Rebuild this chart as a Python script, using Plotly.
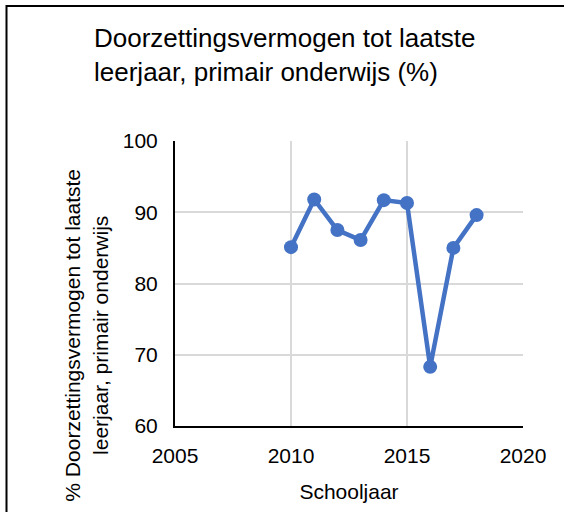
import plotly.graph_objects as go

years = [2010, 2011, 2012, 2013, 2014, 2015, 2016, 2017, 2018]
values = [85.1, 91.8, 87.5, 86.1, 91.7, 91.3, 68.3, 85.0, 89.6]

x_ticks = [2005, 2010, 2015, 2020]
y_ticks = [60, 70, 80, 90, 100]

title_text = 'Doorzettingsvermogen tot laatste<br>leerjaar, primair onderwijs (%)'
x_title = 'Schooljaar'
y_title = '% Doorzettingsvermogen tot laatste<br>leerjaar, primair onderwijs'

font_family = 'Liberation Sans, Arial, sans-serif'
grid_color = '#D9D9D9'

fig = go.Figure()

# empty trace so the overlay axes (used only for the inner gridlines) get drawn
fig.add_trace(go.Scatter(x=[], y=[], xaxis='x2', yaxis='y2',
                         showlegend=False, hoverinfo='skip'))

fig.add_trace(go.Scatter(
    x=years, y=values,
    mode='lines+markers',
    line=dict(color='#4472C4', width=4.5),
    marker=dict(color='#4472C4', size=14),
    showlegend=False
))

fig.update_layout(
    xaxis=dict(
        range=[2005, 2020], tickvals=x_ticks,
        showgrid=False, zeroline=False,
        showline=True, linecolor='black', linewidth=2,
        ticks='', ticklabelstandoff=10,
        tickfont=dict(size=21, color='black'),
        title=dict(text=x_title, font=dict(size=21, color='black'), standoff=18)
    ),
    yaxis=dict(
        range=[60, 100], tickvals=y_ticks,
        showgrid=False, zeroline=False,
        showline=True, linecolor='black', linewidth=2,
        ticks='', ticklabelstandoff=11,
        tickfont=dict(size=21, color='black')
    ),
    # inner gridlines only (no line on the top / right edge)
    xaxis2=dict(
        overlaying='x', anchor='y2', range=[2005, 2020],
        tickvals=x_ticks[1:-1], showticklabels=False,
        showgrid=True, gridcolor=grid_color, gridwidth=1.5,
        zeroline=False, showline=False, ticks=''
    ),
    yaxis2=dict(
        overlaying='y', anchor='x2', range=[60, 100],
        tickvals=y_ticks[1:-1], showticklabels=False,
        showgrid=True, gridcolor=grid_color, gridwidth=1.5,
        zeroline=False, showline=False, ticks=''
    ),
)

# y-axis title sits lower than the plot centre in the original
fig.add_annotation(
    text=y_title, textangle=-90,
    xref='paper', yref='paper',
    x=(86 - 175) / 348, y=(428 - 337) / 287,
    xanchor='center', yanchor='middle',
    showarrow=False, align='center',
    font=dict(size=21, color='black', family=font_family)
)

# outer frame (only left and top edges visible in the crop)
fig.add_shape(
    type='rect', xref='paper', yref='paper',
    x0=(6.5 - 175) / 348, x1=2, y0=-2, y1=(428 - 5) / 287,
    line=dict(color='black', width=2), layer='below'
)

fig.update_layout(
    width=564, height=512,
    title=dict(
        text=title_text, font=dict(size=26, color='black'),
        xref='container', yref='container',
        x=94 / 564, xanchor='left',
        y=1 - 47 / 512, yanchor='top'
    ),
    font=dict(family=font_family, color='black'),
    margin=dict(l=175, r=41, t=141, b=84),
    plot_bgcolor='white',
    paper_bgcolor='white'
)

fig.write_html("out.html", config={'displayModeBar': False},
               post_script="document.body.style.margin='0';")
